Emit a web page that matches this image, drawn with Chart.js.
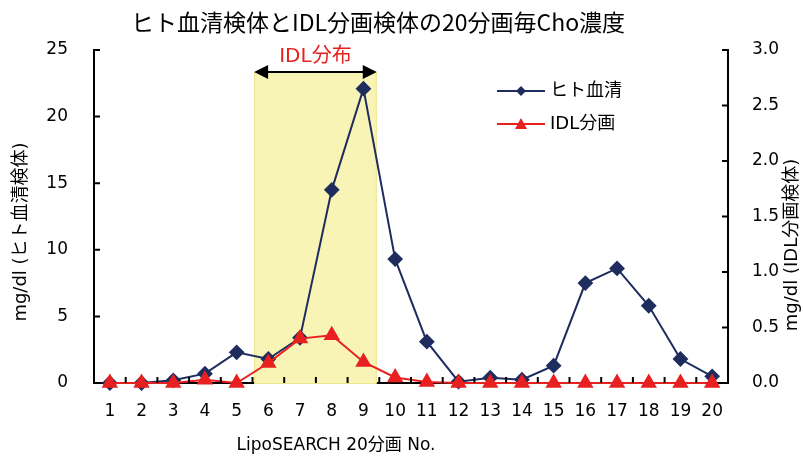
<!DOCTYPE html>
<html>
<head>
<meta charset="utf-8">
<script src="https://cdn.jsdelivr.net/npm/chart.js@4"></script>
<style>
    html, body { margin: 0; padding: 0; background: #fff; }
    #wrap { width: 803px; height: 457px; }
</style>
</head>
<body>
<div id="wrap"><canvas id="choChart"></canvas></div>
<script>
const fractions = ["1", "2", "3", "4", "5", "6", "7", "8", "9", "10",
    "11", "12", "13", "14", "15", "16", "17", "18", "19", "20"];
const serumValues = [0, 0, 0.2, 0.7, 2.3, 1.8, 3.4, 14.5, 22.1, 9.3,
    3.1, 0.1, 0.4, 0.25, 1.3, 7.5, 8.6, 5.8, 1.8, 0.5];
const idlValues = [0, 0, 0, 0.03, 0, 0.18, 0.4, 0.43, 0.19, 0.05,
    0.01, 0, 0, 0, 0, 0, 0, 0, 0, 0];
const leftTicks = [0, 5, 10, 15, 20, 25];
const rightTicks = [0, 0.5, 1.0, 1.5, 2.0, 2.5, 3.0];

const titleText = "ヒト血清検体とIDL分画検体の20分画毎Cho濃度";
const xTitle = "LipoSEARCH 20分画 No.";
const yTitle = "mg/dl (ヒト血清検体)";
const y1Title = "mg/dl (IDL分画検体)";
const bandLabel = "IDL分布";

const BLUE = "#1f2d5e";
const RED = "#e82020";
const FONT = "'DejaVu Sans', 'Noto Sans CJK JP', sans-serif";

// IDL band, in category index / left axis units
const bandFrom = 4.55, bandTo = 8.42, bandTop = 23.35;

const decorPlugin = {
    id: "decor",
    beforeDatasetsDraw(chart) {
        const ctx = chart.ctx, x = chart.scales.x, y = chart.scales.y;
        const x0 = x.getPixelForValue(bandFrom), x1 = x.getPixelForValue(bandTo);
        const top = y.getPixelForValue(bandTop), bot = y.getPixelForValue(0);
        ctx.save();
        ctx.fillStyle = "#f7f4b5";
        ctx.fillRect(x0, top, x1 - x0, bot - top);
        ctx.strokeStyle = "#eee68c";
        ctx.lineWidth = 1;
        ctx.strokeRect(x0 + 0.5, top + 0.5, x1 - x0 - 1, bot - top);
        ctx.restore();
    },
    afterDatasetsDraw(chart) {
        const ctx = chart.ctx, a = chart.chartArea;
        const x = chart.scales.x, y = chart.scales.y, y1 = chart.scales.y1;
        ctx.save();
        // inward ticks
        ctx.strokeStyle = "#000";
        ctx.lineWidth = 2;
        ctx.beginPath();
        leftTicks.forEach(function (v) {
            const p = y.getPixelForValue(v);
            ctx.moveTo(a.left, p); ctx.lineTo(a.left + 6, p);
        });
        rightTicks.forEach(function (v) {
            const p = y1.getPixelForValue(v);
            ctx.moveTo(a.right, p); ctx.lineTo(a.right - 6, p);
        });
        for (let i = 0; i <= fractions.length; i++) {
            const p = x.getPixelForValue(i - 0.5);
            ctx.moveTo(p, a.bottom); ctx.lineTo(p, a.bottom - 6);
        }
        ctx.stroke();

        // band arrow + label
        const x0 = x.getPixelForValue(bandFrom), x1 = x.getPixelForValue(bandTo);
        const ay = y.getPixelForValue(bandTop);
        ctx.lineWidth = 2;
        ctx.beginPath();
        ctx.moveTo(x0 + 10, ay); ctx.lineTo(x1 - 10, ay);
        ctx.stroke();
        ctx.fillStyle = "#000";
        ctx.beginPath();
        ctx.moveTo(x0, ay); ctx.lineTo(x0 + 14, ay - 7); ctx.lineTo(x0 + 14, ay + 7); ctx.closePath();
        ctx.moveTo(x1, ay); ctx.lineTo(x1 - 14, ay - 7); ctx.lineTo(x1 - 14, ay + 7); ctx.closePath();
        ctx.fill();
        ctx.fillStyle = RED;
        ctx.font = "20px " + FONT;
        ctx.textAlign = "center";
        ctx.textBaseline = "middle";
        ctx.fillText(bandLabel, (x0 + x1) / 2, ay - 15);

        // legend
        const items = chart.data.datasets;
        items.forEach(function (ds, i) {
            const ly = 91 + i * 33;
            ctx.strokeStyle = ds.borderColor;
            ctx.lineWidth = 2;
            ctx.beginPath();
            ctx.moveTo(497, ly); ctx.lineTo(545, ly);
            ctx.stroke();
            ctx.fillStyle = ds.backgroundColor;
            ctx.beginPath();
            if (ds.pointStyle === "rectRot") {
                ctx.moveTo(521, ly - 5); ctx.lineTo(526, ly); ctx.lineTo(521, ly + 5); ctx.lineTo(516, ly);
            } else {
                ctx.moveTo(521, ly - 6); ctx.lineTo(527, ly + 5); ctx.lineTo(515, ly + 5);
            }
            ctx.closePath();
            ctx.fill();
            ctx.fillStyle = "#000";
            ctx.font = "18px " + FONT;
            ctx.textAlign = "left";
            ctx.fillText(ds.label, 550, ly);
        });

        // titles
        ctx.fillStyle = "#000";
        ctx.textAlign = "center";
        ctx.font = "23px 'Noto Sans CJK JP', sans-serif";
        ctx.fillText(titleText, 378, 22);
        ctx.font = "17px " + FONT;
        ctx.fillText(xTitle, 336, 446);
        ctx.font = "18px " + FONT;
        ctx.save();
        ctx.translate(21, 232);
        ctx.rotate(-Math.PI / 2);
        ctx.fillText(yTitle, 0, 0);
        ctx.restore();
        ctx.save();
        ctx.translate(792, 245);
        ctx.rotate(-Math.PI / 2);
        ctx.fillText(y1Title, 0, 0);
        ctx.restore();
        ctx.restore();
    }
};

new Chart(document.getElementById("choChart"), {
    type: "line",
    data: {
        labels: fractions,
        datasets: [
            {
                label: "ヒト血清",
                data: serumValues,
                yAxisID: "y",
                order: 1,
                clip: false,
                borderColor: BLUE,
                backgroundColor: BLUE,
                borderWidth: 2,
                pointStyle: "rectRot",
                pointRadius: 6.5,
                pointHoverRadius: 6.5,
                tension: 0,
            },
            {
                label: "IDL分画",
                data: idlValues,
                yAxisID: "y1",
                order: 0,
                clip: false,
                borderColor: RED,
                backgroundColor: RED,
                borderWidth: 2,
                pointStyle: "triangle",
                pointRadius: 7.5,
                pointHoverRadius: 7.5,
                tension: 0,
            },
        ],
    },
    options: {
        responsive: true,
        maintainAspectRatio: false,
        animation: false,
        layout: { padding: { top: 50, left: 0, right: 0, bottom: 0 } },
        plugins: {
            legend: { display: false },
            tooltip: { enabled: false },
        },
        scales: {
            x: {
                offset: true,
                grid: { display: false, drawTicks: false },
                border: { display: true, color: "#000", width: 2 },
                ticks: { color: "#000", font: { family: FONT, size: 17 }, padding: 18, maxRotation: 0, autoSkip: false },
                afterFit: function (s) { s.height = 74; },
            },
            y: {
                position: "left",
                min: 0,
                max: 25,
                grid: { display: false, drawTicks: false },
                border: { display: true, color: "#000", width: 2 },
                ticks: { stepSize: 5, color: "#000", font: { family: FONT, size: 17 }, padding: 26 },
                afterFit: function (s) { s.width = 94; },
            },
            y1: {
                position: "right",
                min: 0,
                max: 3,
                grid: { display: false, drawTicks: false },
                border: { display: true, color: "#000", width: 2 },
                ticks: {
                    stepSize: 0.5,
                    color: "#000",
                    font: { family: FONT, size: 17 },
                    padding: 24,
                    callback: function (v) { return Number(v).toFixed(1); },
                },
                afterFit: function (s) { s.width = 75; },
            },
        },
    },
    plugins: [decorPlugin],
});
</script>
</body>
</html>
